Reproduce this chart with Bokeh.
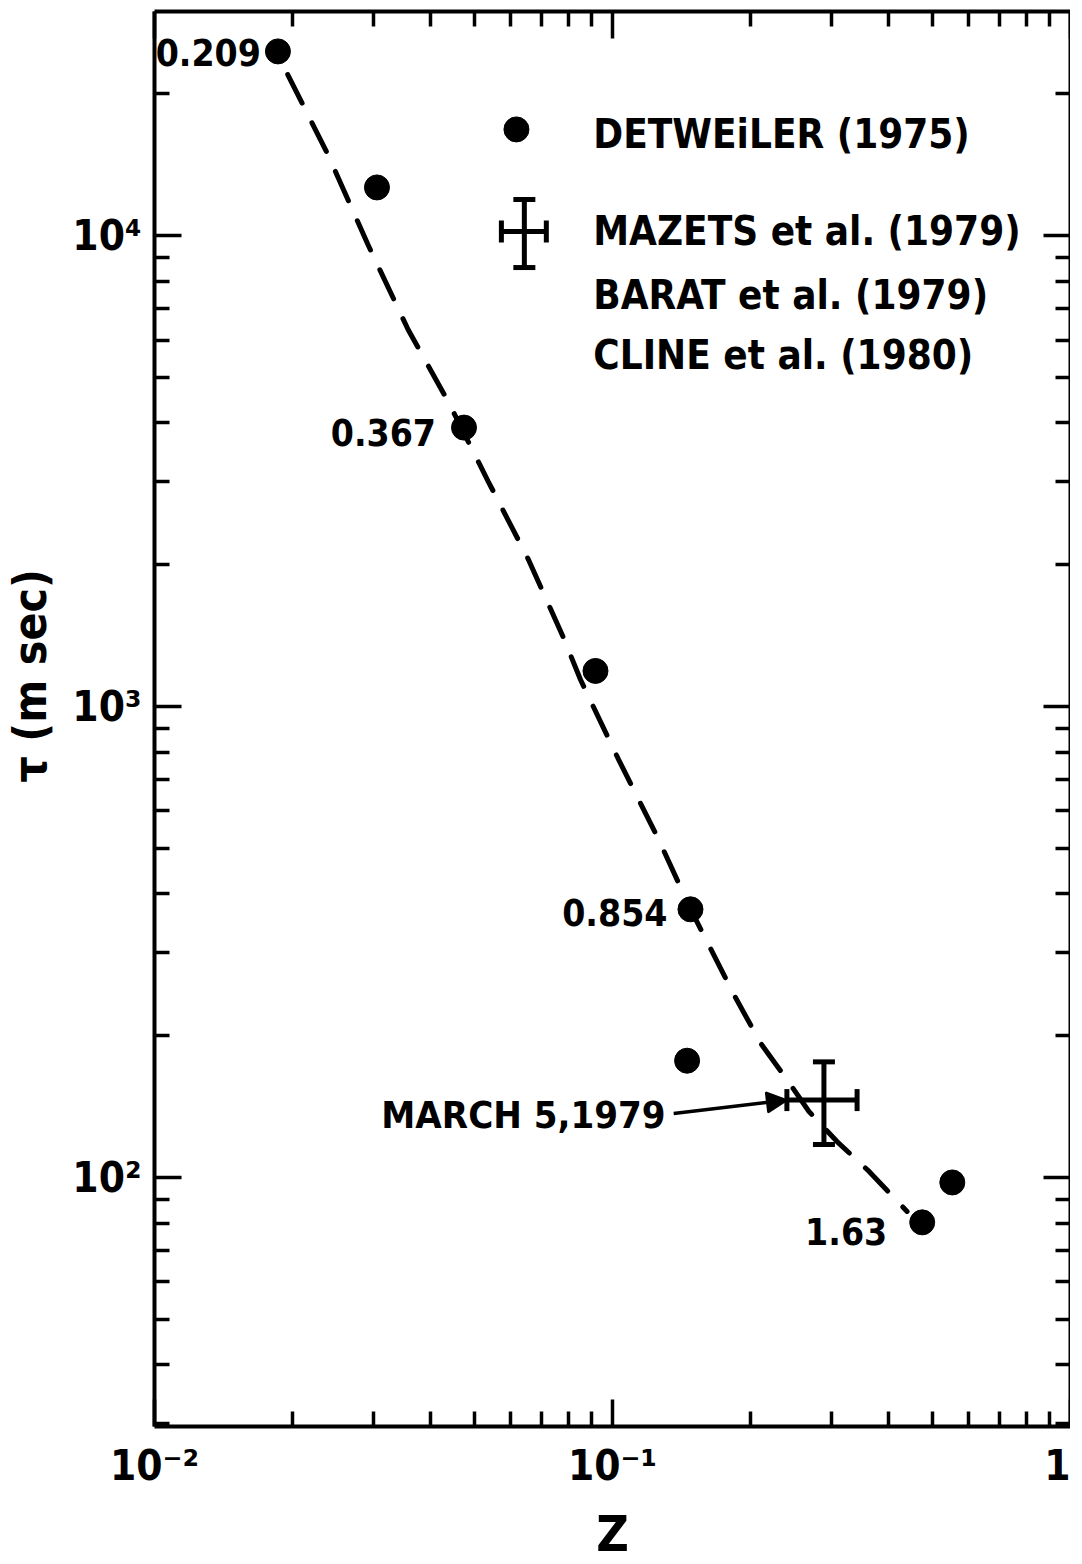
from bokeh.plotting import figure
from bokeh.models import (ColumnDataSource, LogAxis, FixedTicker, Whisker, TeeHead,
                          Arrow, NormalHead, Range1d)
from bokeh.embed import file_html
from bokeh.resources import INLINE
from bokeh.core.properties import value

# ---------------- data ----------------
DET_Z = [0.0186, 0.0306, 0.0474, 0.0918, 0.148, 0.1455, 0.4745, 0.552]
DET_TAU = [24600, 12650, 3910, 1190, 371, 177, 80.3, 97.6]

LABEL_IDX = [0, 2, 4, 6]
LABEL_TEXT = ["0.209", "0.367", "0.854", "1.63"]

CURVE_Z = [0.01954, 0.02391, 0.02924, 0.03578, 0.04377, 0.05355, 0.06552, 0.07812,
           0.08511, 0.1031, 0.1261, 0.1482, 0.1840, 0.2108, 0.2403, 0.2685, 0.3092,
           0.3633, 0.4397]
CURVE_TAU = [21970, 14860, 9570, 6317, 4441, 3004, 2052, 1401,
             1141, 771.7, 522.0, 370.7, 244.7, 192.5, 161.5, 138.1, 119.2,
             103.0, 84.7]

MAZETS_Z = [0.2895]
MAZETS_TAU = [146.0]
MAZETS_Z_LO = [0.2403]
MAZETS_Z_HI = [0.342]
MAZETS_TAU_LO = [117.5]
MAZETS_TAU_HI = [176.0]

ARROW_START = (0.136, 136.8)
MARCH_TEXT = "MARCH 5,1979"

LEGEND_TEXT = ["DETWEiLER (1975)", "MAZETS et al. (1979)", "BARAT et al. (1979)",
               "CLINE et al. (1980)"]

X_TICKS = [0.01, 0.1, 1.0]
X_TICK_LABELS = ["10⁻²", "10⁻¹", "1"]
Y_TICKS = [100.0, 1000.0, 10000.0]
Y_TICK_LABELS = ["10²", "10³", "10⁴"]
X_MINOR = [m * d for d in (0.01, 0.1) for m in range(2, 10)]
Y_MINOR = [m * d for d in (10, 100, 1000, 10000) for m in range(2, 10)]

X_LABEL = "Z"
Y_LABEL = "\u00a0\u00a0\u00a0\u00a0\u00a0\u00a0τ (m sec)"

# ---------------- style ----------------
FONT = "DejaVu Sans Condensed"
INK = "black"

p = figure(x_axis_type="log", y_axis_type="log",
           x_range=Range1d(0.01, 1.0), y_range=Range1d(29.6, 29900),
           frame_width=916, frame_height=1415,
           min_border_left=154, min_border_right=0, min_border_top=11,
           min_border_bottom=100,
           output_backend="svg", toolbar_location=None,
           outline_line_color=None, background_fill_color="white",
           border_fill_color="white")
p.grid.visible = False

bottom_ax = p.below[0]
left_ax = p.left[0]
right_ax = LogAxis()
top_ax = LogAxis()
p.add_layout(right_ax, "right")
p.add_layout(top_ax, "above")


def style_axis(ax, ticks, minor, labels, show):
    ax.ticker = FixedTicker(ticks=ticks, minor_ticks=minor)
    ax.axis_line_color = INK
    ax.axis_line_width = 4
    ax.major_tick_in = 27
    ax.major_tick_out = 0
    ax.minor_tick_in = 15
    ax.minor_tick_out = 0
    ax.major_tick_line_width = 3.5
    ax.minor_tick_line_width = 3.5
    ax.major_tick_line_color = INK
    ax.minor_tick_line_color = INK
    if show:
        ax.major_label_overrides = {t: l for t, l in zip(ticks, labels)}
        ax.major_label_text_font = FONT
        ax.major_label_text_font_size = "42px"
        ax.major_label_text_font_style = "bold"
        ax.major_label_text_color = INK
    else:
        ax.major_label_text_font_size = "1px"
        ax.major_label_text_color = None
        ax.major_label_standoff = 0


style_axis(bottom_ax, X_TICKS, X_MINOR, X_TICK_LABELS, True)
style_axis(top_ax, X_TICKS, X_MINOR, X_TICK_LABELS, False)
style_axis(left_ax, Y_TICKS, Y_MINOR, Y_TICK_LABELS, True)
style_axis(right_ax, Y_TICKS, Y_MINOR, Y_TICK_LABELS, False)

bottom_ax.axis_label = X_LABEL
bottom_ax.axis_label_text_font = FONT
bottom_ax.axis_label_text_font_size = "50px"
bottom_ax.axis_label_text_font_style = "bold"
bottom_ax.axis_label_text_color = INK
bottom_ax.major_label_standoff = 14
bottom_ax.axis_label_standoff = 12

left_ax.axis_label = Y_LABEL
left_ax.axis_label_text_font = FONT
left_ax.axis_label_text_font_size = "46px"
left_ax.axis_label_text_font_style = "bold"
left_ax.axis_label_text_color = INK
left_ax.major_label_standoff = 13
left_ax.major_label_orientation = "horizontal"
left_ax.axis_label_standoff = 12

# dashed curve
p.line(CURVE_Z, CURVE_TAU, line_color=INK, line_width=5, line_dash="32 22",
       line_cap="round")

# Detweiler points
p.scatter(DET_Z, DET_TAU, size=25, color=INK)

# point labels
LABEL_DX = [-17, -28, -23, -35]
LABEL_DY = [1, 5, 3, 9]
p.text(x=[DET_Z[i] for i in LABEL_IDX], y=[DET_TAU[i] for i in LABEL_IDX],
       text=LABEL_TEXT, x_offset=LABEL_DX, y_offset=LABEL_DY,
       text_align="right", text_baseline="middle", text_color=INK,
       text_font=value(FONT), text_font_size="37px", text_font_style="bold")

# Mazets error cross
msrc = ColumnDataSource(dict(z=MAZETS_Z, tau=MAZETS_TAU, zlo=MAZETS_Z_LO, zhi=MAZETS_Z_HI,
                             tlo=MAZETS_TAU_LO, thi=MAZETS_TAU_HI))
for dim, base, lo, hi in (("height", "z", "tlo", "thi"), ("width", "tau", "zlo", "zhi")):
    p.add_layout(Whisker(source=msrc, base=base, lower=lo, upper=hi, dimension=dim,
                         line_color=INK, line_width=5,
                         upper_head=TeeHead(size=22, line_width=5, line_color=INK),
                         lower_head=TeeHead(size=22, line_width=5, line_color=INK)))

# arrow + date label
p.add_layout(Arrow(end=NormalHead(size=20, fill_color=INK, line_color=INK, line_width=2),
                   x_start=ARROW_START[0], y_start=ARROW_START[1],
                   x_end=MAZETS_Z_LO[0], y_end=MAZETS_TAU[0],
                   line_color=INK, line_width=3.5))
p.text(x=[ARROW_START[0]], y=[ARROW_START[1]], text=[MARCH_TEXT], x_offset=[-8], y_offset=[2],
       text_align="right", text_baseline="middle", text_color=INK,
       text_font=value(FONT), text_font_size="38px", text_font_style="bold")

# legend (drawn by hand)
LEG_DOT = (0.0617, 16800)
LEG_CROSS = (0.0642, 10200)
LEG_CROSS_Z = (0.0572, 0.0717)
LEG_CROSS_TAU = (8551, 11930)
LEG_TEXT_Z = 0.0908
LEG_TEXT_TAU = [16390, 10200, 7494, 5588]

p.scatter([LEG_DOT[0]], [LEG_DOT[1]], size=25, color=INK)
lsrc = ColumnDataSource(dict(z=[LEG_CROSS[0]], tau=[LEG_CROSS[1]],
                             zlo=[LEG_CROSS_Z[0]], zhi=[LEG_CROSS_Z[1]],
                             tlo=[LEG_CROSS_TAU[0]], thi=[LEG_CROSS_TAU[1]]))
for dim, base, lo, hi in (("height", "z", "tlo", "thi"), ("width", "tau", "zlo", "zhi")):
    p.add_layout(Whisker(source=lsrc, base=base, lower=lo, upper=hi, dimension=dim,
                         line_color=INK, line_width=5,
                         upper_head=TeeHead(size=22, line_width=5, line_color=INK),
                         lower_head=TeeHead(size=22, line_width=5, line_color=INK)))
p.text(x=[LEG_TEXT_Z] * 4, y=LEG_TEXT_TAU, text=LEGEND_TEXT,
       text_align="left", text_baseline="middle", text_color=INK,
       text_font=value(FONT), text_font_size="40px", text_font_style="bold")

open("out.html", "w").write(file_html(p, INLINE))
